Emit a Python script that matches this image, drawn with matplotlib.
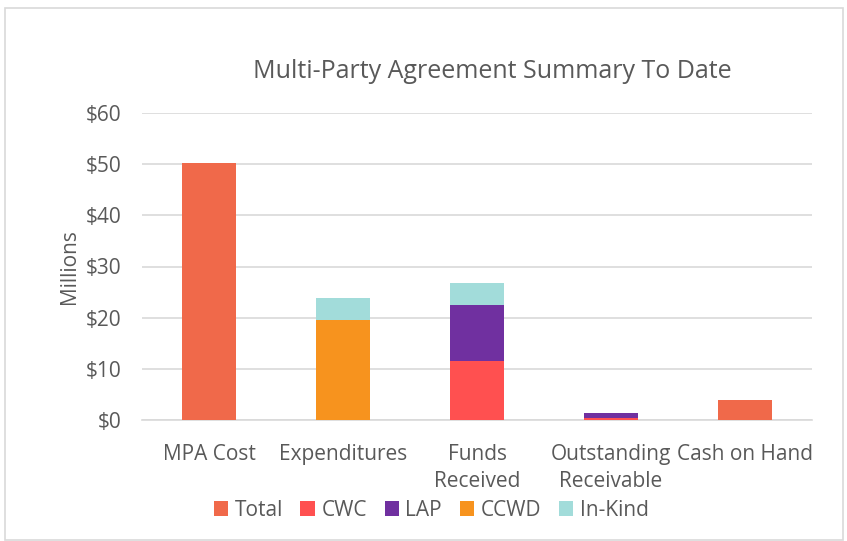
import matplotlib
matplotlib.use("Agg")
import matplotlib.pyplot as plt
import numpy as np
from matplotlib.patches import Rectangle

categories = ["MPA Cost", "Expenditures", "Funds\nReceived", "Outstanding\nReceivable", "Cash on Hand"]
total = [50.2, 0, 0, 0, 3.9]
cwc = [0, 0, 11.5, 0.4, 0]
lap = [0, 0, 11.0, 0.9, 0]
ccwd = [0, 19.5, 0, 0, 0]
inkind = [0, 4.3, 4.3, 0, 0]
yticks = [0, 10, 20, 30, 40, 50, 60]
ytick_labels = ["$0", "$10", "$20", "$30", "$40", "$50", "$60"]

series = [("Total", total, "#F0694A"), ("CWC", cwc, "#FF5050"), ("LAP", lap, "#7030A0"),
          ("CCWD", ccwd, "#F7931E"), ("In-Kind", inkind, "#A2DCDA")]

plt.rcParams['font.family'] = ['Open Sans', 'DejaVu Sans']
txt = "#595959"

fig = plt.figure(figsize=(8.47, 5.41), dpi=100)
ax = fig.add_axes([142/847, 1-420/541, 670/847, 307/541])

x = np.arange(len(categories))
bottom = np.zeros(len(categories))
for name, vals, col in series:
    v = np.array(vals, dtype=float)
    ax.bar(x, v, 0.4, bottom=bottom, color=col, label=name, zorder=3)
    bottom += v

ax.set_xlim(-0.5, len(categories) - 0.5)
ax.set_ylim(0, 60)
ax.set_yticks(yticks)
ax.set_yticklabels(ytick_labels)
ax.yaxis.grid(True, color="#D9D9D9", linewidth=1.2, zorder=0)
for s in ["top", "right", "left"]:
    ax.spines[s].set_visible(False)
ax.spines["bottom"].set_color("#D9D9D9")
ax.spines["bottom"].set_linewidth(1.2)
ax.tick_params(axis="both", length=0, labelsize=15, colors=txt)
ax.set_xticks(x)
ax.set_xticklabels(categories, linespacing=1.4)
ax.tick_params(axis="x", pad=17)
ax.tick_params(axis="y", pad=15)
ax.set_ylabel("Millions", fontsize=15, color=txt, labelpad=4)

fig.text(492/847, 1-72/541, "Multi-Party Agreement Summary To Date", ha="center", va="center",
         fontsize=18, color=txt)

leg = fig.legend(loc="center", bbox_to_anchor=(431/847, 1-510/541), ncol=5, frameon=False,
                 fontsize=15, handlelength=0.7, handleheight=0.7, handletextpad=0.3,
                 columnspacing=0.85, labelcolor=txt)

fig.patches.append(Rectangle((5/847, 1/541), 838/847, 532/541, transform=fig.transFigure,
                             fill=False, edgecolor="#D9D9D9", linewidth=1.2))

fig.savefig("out.png", dpi=100, facecolor="white")
